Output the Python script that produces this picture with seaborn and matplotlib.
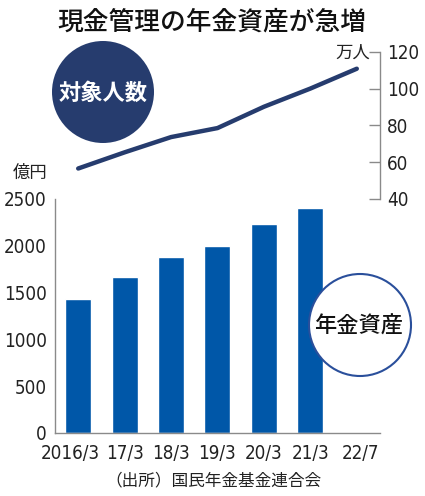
import pandas as pd
import seaborn as sns
import matplotlib.pyplot as plt
import matplotlib.transforms as mtransforms
from matplotlib.patches import Circle

# =============================
# Data
# =============================
periods = ["2016/3", "17/3", "18/3", "19/3", "20/3", "21/3", "22/7"]
asset_periods = ["2016/3", "17/3", "18/3", "19/3", "20/3", "21/3"]
assets = [1430, 1670, 1885, 1995, 2230, 2400]      # 億円
members = [56.6, 65.4, 73.7, 78.6, 90.2, 100.1, 110.9]  # 万人

bar_ticks = [0, 500, 1000, 1500, 2000, 2500]
line_ticks = [40, 60, 80, 100, 120]

BAR_COLOR = "#0057a8"
NAVY = "#263c6e"
GRAY = "#8a8a8a"
JP = ["Noto Sans CJK JP", "DejaVu Sans"]

sns.set_theme(style="white")
plt.rcParams["font.family"] = ["DejaVu Sans"]
plt.rcParams["font.stretch"] = "condensed"

df_bar = pd.DataFrame({"period": asset_periods, "assets": assets})
df_line = pd.DataFrame({"x": range(len(periods)), "members": members})

W, H = 425, 496
fig = plt.figure(figsize=(W / 100, H / 100), dpi=100)

ax_bar = fig.add_axes([55 / W, 1 - 433 / H, 325 / W, 234 / H])
ax_line = fig.add_axes([55 / W, 1 - 199 / H, 325 / W, 147 / H])

# =============================
# Bars
# =============================
sns.barplot(data=df_bar, x="period", y="assets", order=periods,
            color=BAR_COLOR, saturation=1, width=0.56, ax=ax_bar)
ax_bar.set_xlim(-0.5, 6.5)
ax_bar.set_ylim(0, 2500)
ax_bar.set_yticks(bar_ticks)
ax_bar.set_xlabel("")
ax_bar.set_ylabel("")
for s in ["top", "right"]:
    ax_bar.spines[s].set_visible(False)
for s in ["left", "bottom"]:
    ax_bar.spines[s].set_color(GRAY)
    ax_bar.spines[s].set_linewidth(1)
ax_bar.tick_params(axis="both", direction="in", length=8, width=1,
                   color=GRAY, labelsize=13.5, labelcolor="#222222")
ax_bar.tick_params(axis="y", pad=6)
ax_bar.tick_params(axis="x", pad=8)
ax_bar.set_xticks(range(len(periods)))
ax_bar.set_xticklabels(periods)

# nudge first and last period labels like the original layout
xlabels = ax_bar.get_xticklabels()
xlabels[0].set_transform(xlabels[0].get_transform() +
                         mtransforms.ScaledTranslation(-8 / 100, 0, fig.dpi_scale_trans))
xlabels[-1].set_transform(xlabels[-1].get_transform() +
                          mtransforms.ScaledTranslation(4 / 100, 0, fig.dpi_scale_trans))

# =============================
# Line
# =============================
sns.lineplot(data=df_line, x="x", y="members", color=NAVY, linewidth=3.2,
             ax=ax_line, solid_capstyle="round")
ax_line.set_xlim(-0.5, 6.5)
ax_line.set_ylim(40, 120)
ax_line.set_yticks(line_ticks)
ax_line.yaxis.tick_right()
ax_line.set_xticks([])
ax_line.set_xlabel("")
ax_line.set_ylabel("")
for s in ["top", "left", "bottom"]:
    ax_line.spines[s].set_visible(False)
ax_line.spines["right"].set_color(GRAY)
ax_line.spines["right"].set_linewidth(1)
ax_line.tick_params(axis="y", direction="in", length=8, width=1, pad=5,
                    color=GRAY, labelsize=13.5, labelcolor="#222222")
ax_line.patch.set_alpha(0)

# =============================
# Overlay: title, units, circles, source
# =============================
ov = fig.add_axes([0, 0, 1, 1], zorder=10)
ov.set_xlim(0, W)
ov.set_ylim(H, 0)
ov.axis("off")

ov.text(212, 22, "現金管理の年金資産が急増", family=JP, fontsize=18.5,
        fontweight="medium", ha="center", va="center", color="#111111")
ov.text(370, 53, "万人", family=JP, fontsize=12.5, ha="right", va="center",
        color="#222222")
ov.text(30, 173, "億円", family=JP, fontsize=12.5, ha="center", va="center",
        color="#222222")

ov.add_patch(Circle((103, 92), 51, facecolor=NAVY, edgecolor="none"))
ov.text(103, 93, "対象人数", family=JP, fontsize=16, fontweight="bold",
        color="white", ha="center", va="center")

ov.add_patch(Circle((360, 325), 51, facecolor="white", edgecolor="#2a4f9b",
                    linewidth=1.5))
ov.text(359, 326, "年金資産", family=JP, fontsize=16, fontweight="medium",
        color="#111111", ha="center", va="center")

ov.text(213, 481, "（出所）国民年金基金連合会", family=JP, fontsize=12,
        ha="center", va="center", color="#222222")

fig.savefig("out.png", dpi=100)
